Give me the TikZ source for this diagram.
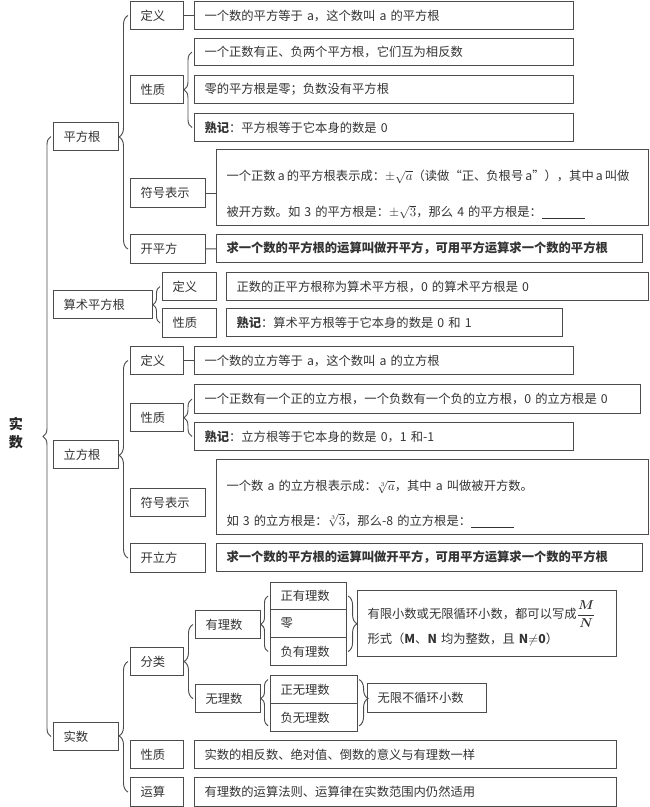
\documentclass[tikz,border=0pt]{standalone}
\usepackage{amsmath}
\usepackage[no-math]{fontspec}
\setmainfont{Noto Sans CJK SC}
\usetikzlibrary{decorations.pathreplacing}
\definecolor{linec}{gray}{0.3}
\definecolor{txtc}{gray}{0.2}

\begin{document}
\begin{tikzpicture}[x=0.03cm,y=-0.03cm,
    box/.style={draw=linec,line width=0.9pt,anchor=north west,inner xsep=0.3cm,inner ysep=0pt,align=left,text=txtc,font=\fontsize{10.5}{13}\selectfont,minimum height=0.84cm},
    brc/.style 2 args={draw=linec,line width=0.8pt,decorate,decoration={brace,amplitude=#1,aspect=#2}},
    lnk/.style={draw=linec,line width=0.8pt}]
  \useasboundingbox (0,0) rectangle (650,807);
  \node[text=black!85,font=\fontsize{12}{15}\selectfont\bfseries,align=center] (root) at (16,433) {实\\数};

  \node[box,text width=1.35cm] (pfg) at (53,122) {平方根};
  \node[box,text width=2.37cm] (sspfg) at (53,290) {算术平方根};
  \node[box,text width=1.35cm] (lfg) at (53,440) {立方根};
  \node[box,text width=1.35cm] (ss) at (53,722) {实数};

  \node[box,text width=0.99cm] (pdy) at (130,1) {定义};
  \node[box,text width=0.99cm] (pxz) at (130,75) {性质};
  \node[box,text width=1.65cm,minimum height=0.87cm] (pfh) at (130,178) {符号表示};
  \node[box,text width=1.65cm,minimum height=0.87cm] (pkf) at (130,234) {开平方};
  \node[box,text width=10.77cm] (pdyc) at (194,1) {一个数的平方等于 a，这个数叫 a 的平方根};
  \node[box,text width=10.77cm,minimum height=0.81cm] (pxz1) at (194,38) {一个正数有正、负两个平方根，它们互为相反数};
  \node[box,text width=10.77cm] (pxz2) at (194,75) {零的平方根是零；负数没有平方根};
  \node[box,text width=10.77cm] (pxz3) at (194,113) {\textbf{熟记}：平方根等于它本身的数是 0};
  \node[box,inner xsep=0.3cm,text width=12.36cm,minimum height=2.28cm] (pfhc) at (216,149) {\rule{0pt}{0.75cm}\mbox{一个正数\,a\,的平方根表示成：$\pm\sqrt{a}$（读做“正、负根号\,a”），其中\,a\,叫做}\\[0.62cm]被开方数。如 3 的平方根是：$\pm\sqrt{3}$，那么 4 的平方根是：\underline{\hspace{1.3cm}}};
  \node[box,text width=12.18cm] (pkfc) at (216,234) {\textbf{求一个数的平方根的运算叫做开平方，可用平方运算求一个数的平方根}};

  \node[box,text width=1.02cm] (sdy) at (162,272) {定义};
  \node[box,text width=1.02cm,minimum height=0.87cm] (sxz) at (162,308) {性质};
  \node[box,text width=12.06cm] (sdyc) at (226,272) {正数的正平方根称为算术平方根，0 的算术平方根是 0};
  \node[box,text width=9.48cm] (sxzc) at (226,308) {\textbf{熟记}：算术平方根等于它本身的数是 0 和 1};

  \node[box,text width=0.99cm] (ldy) at (130,346) {定义};
  \node[box,text width=0.99cm] (lxz) at (130,403) {性质};
  \node[box,text width=1.65cm] (lfh) at (130,488) {符号表示};
  \node[box,text width=1.65cm,minimum height=0.87cm] (lkf) at (130,543) {开立方};
  \node[box,text width=10.77cm] (ldyc) at (194,346) {一个数的立方等于 a，这个数叫 a 的立方根};
  \node[box,text width=12.78cm,minimum height=0.87cm] (lxz1) at (194,384) {一个正数有一个正的立方根，一个负数有一个负的立方根，0 的立方根是 0};
  \node[box,text width=10.77cm] (lxz2) at (194,422) {\textbf{熟记}：立方根等于它本身的数是 0，1 和-1};
  \node[box,text width=12.36cm,minimum height=2.25cm] (lfhc) at (216,459) {\rule{0pt}{0.75cm}一个数 a 的立方根表示成：$\sqrt[3]{a}$，其中 a 叫做被开方数。\\[0.58cm]如 3 的立方根是：$\sqrt[3]{3}$，那么-8 的立方根是：\underline{\hspace{1.3cm}}};
  \node[box,text width=12.18cm] (lkfc) at (216,543) {\textbf{求一个数的平方根的运算叫做开平方，可用平方运算求一个数的平方根}};

  \node[box,text width=0.99cm] (sfl) at (130,647) {分类};
  \node[box,text width=0.99cm] (sxz2) at (130,740) {性质};
  \node[box,text width=0.99cm,minimum height=0.87cm] (sys) at (130,777) {运算};
  \node[box,text width=12.06cm] (sxzc2) at (194,740) {实数的相反数、绝对值、倒数的意义与有理数一样};
  \node[box,text width=12.06cm,minimum height=0.87cm] (sysc) at (194,777) {有理数的运算法则、运算律在实数范围内仍然适用};
  \node[box,text width=1.35cm] (yls) at (195,610) {有理数};
  \node[box,text width=1.35cm] (wls) at (195,684) {无理数};
  \node[box,text width=1.68cm,minimum height=0.81cm] (zyl) at (270,582) {正有理数};
  \node[box,text width=1.68cm] (ling) at (270,609) {零};
  \node[box,text width=1.68cm] (fyl) at (270,637) {负有理数};
  \node[box,text width=2.01cm] (zwl) at (270,675) {正无理数};
  \node[box,text width=2.01cm] (fwl) at (270,703) {负无理数};
  \node[box,text width=7.17cm,minimum height=1.98cm] (yc) at (357,590) {有限小数或无限循环小数，都可以写成$\dfrac{\boldsymbol{M}}{\boldsymbol{N}}$\\[0.15cm]形式（\textbf{M}、\textbf{N} 均为整数，且 \textbf{N}$\neq$\textbf{0}）};
  \node[box,text width=2.97cm,minimum height=0.87cm] (wc) at (367,683) {无限不循环小数};

  \draw[brc={0.24cm}{0.5}] ([xshift=-0.06cm]ss.west) -- ([xshift=-0.06cm]pfg.west);
  \draw[brc={0.27cm}{0.48}] ([xshift=-0.06cm]pkf.west) -- ([xshift=-0.06cm]pdy.west);
  \draw[brc={0.21cm}{0.5}] ([xshift=-0.06cm]sxz.west) -- ([xshift=-0.06cm]sdy.west);
  \draw[brc={0.27cm}{0.52}] ([xshift=-0.06cm]lkf.west) -- ([xshift=-0.06cm]ldy.west);
  \draw[brc={0.27cm}{0.43}] ([xshift=-0.06cm]sys.west) -- ([xshift=-0.06cm]sfl.west);
  \draw[brc={0.24cm}{0.5}] ([xshift=-0.06cm]pxz3.west) -- ([xshift=-0.06cm]pxz1.west);
  \draw[brc={0.24cm}{0.5}] ([xshift=-0.06cm]lxz2.west) -- ([xshift=-0.06cm]lxz1.west);
  \draw[brc={0.27cm}{0.5}] ([xshift=-0.06cm]wls.west) -- ([xshift=-0.06cm]yls.west);
  \draw[brc={0.21cm}{0.49}] ([xshift=-0.06cm]fyl.west) -- ([xshift=-0.06cm]zyl.west);
  \draw[brc={0.21cm}{0.59}] ([xshift=-0.06cm,yshift=-0.25cm]fwl.west) -- ([xshift=-0.06cm,yshift=0.3cm]zwl.west);
  \draw[brc={0.27cm}{0.5}] ([xshift=0.03cm]zyl.east) -- ([xshift=0.03cm]fyl.east);
  \draw[brc={0.27cm}{0.41}] ([xshift=0.03cm,yshift=0.3cm]zwl.east) -- ([xshift=0.03cm,yshift=-0.25cm]fwl.east);

  \draw[lnk] (pdy) -- (pdyc);
  \draw[lnk] (pfh.east) -- (pfh.east -| pfhc.west);
  \draw[lnk] (pkf) -- (pkfc);
  \draw[lnk] (ldy) -- (ldyc);
\end{tikzpicture}
\end{document}
